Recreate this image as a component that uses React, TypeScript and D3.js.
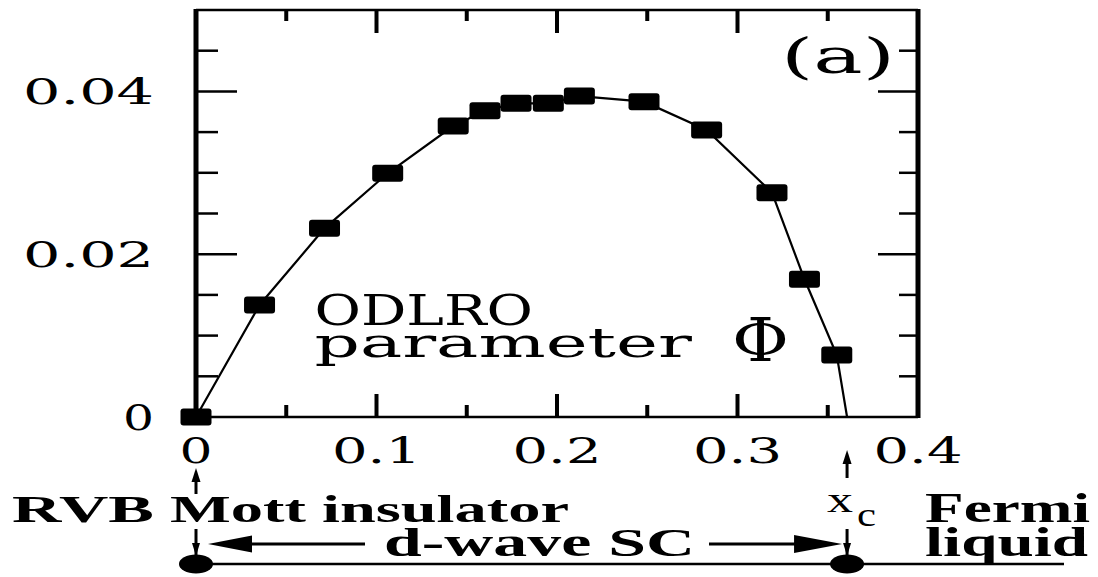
import React from "react";
import * as d3 from "d3";

// ---- data ----
const dopingX = [0, 0.0352, 0.0712, 0.1062, 0.1425, 0.1601, 0.1773, 0.1952, 0.2124, 0.2482, 0.2829, 0.3191, 0.3371, 0.355];
const odlroPhi = [0, 0.01376, 0.02318, 0.02994, 0.03575, 0.03763, 0.03854, 0.03854, 0.03943, 0.03874, 0.03526, 0.02756, 0.01692, 0.00762];
const xc = 0.3607; // where the curve reaches zero

const xTickValues = [0, 0.1, 0.2, 0.3, 0.4];
const xTickLabels = ["0", "0.1", "0.2", "0.3", "0.4"];
const xMajor = [0.1, 0.2, 0.3];
const xMinor = [0.05, 0.15, 0.25, 0.35];
const yTickValues = [0, 0.02, 0.04];
const yTickLabels = ["0", "0.02", "0.04"];
const yMajor = [0.02, 0.04];
const yMinor = [0.005, 0.01, 0.015, 0.025, 0.03, 0.035, 0.045];

const W = 1098;
const H = 577;
const L = 196, R = 918, T = 10, B = 417;
const SERIF = "'Liberation Serif', 'Times New Roman', serif";
const WIDE = "'DejaVu Serif', 'Liberation Serif', serif";

export default function App() {
  const x = d3.scaleLinear().domain([0, 0.4]).range([L, R]);
  const y = d3.scaleLinear().domain([0, 0.05]).range([B, T]);
  const pts: [number, number][] = dopingX.map((v, i) => [v, odlroPhi[i]]);
  const linePts: [number, number][] = [...pts, [xc, 0]];
  const line = d3.line<[number, number]>().x((d) => x(d[0])).y((d) => y(d[1]));

  const x0 = x(0);
  const xC = x(xc);
  const arrowY = 544;
  const baseY = 564;

  const stretchText = (
    str: string, xx: number, yy: number, len: number, size: number,
    weight: string | number = "normal", family: string = SERIF, key?: string
  ) => (
    <text key={key ?? str + xx} x={xx} y={yy} textLength={len} lengthAdjust="spacingAndGlyphs"
      fontFamily={family} fontSize={size} fontWeight={weight} fill="#000">{str}</text>
  );

  return (
    <svg width={W} height={H} viewBox={`0 0 ${W} ${H}`} style={{ position: "absolute", left: 0, top: 0, background: "#fff" }}>
      <rect x={0} y={0} width={W} height={H} fill="#fff" />
      {/* frame */}
      <line x1={L} x2={R} y1={T} y2={T} stroke="#000" strokeWidth={2.5} />
      <line x1={L} x2={R} y1={B} y2={B} stroke="#000" strokeWidth={2.5} />
      <line x1={L} x2={L} y1={T - 1} y2={B + 1} stroke="#000" strokeWidth={5} />
      <line x1={R} x2={R} y1={T - 1} y2={B + 1} stroke="#000" strokeWidth={5} />

      {/* x ticks */}
      {xMajor.map((v) => (
        <g key={"xM" + v}>
          <line x1={x(v)} x2={x(v)} y1={B} y2={B - 23} stroke="#000" strokeWidth={4} />
          <line x1={x(v)} x2={x(v)} y1={T} y2={T + 23} stroke="#000" strokeWidth={4} />
        </g>
      ))}
      {xMinor.map((v) => (
        <g key={"xm" + v}>
          <line x1={x(v)} x2={x(v)} y1={B} y2={B - 12} stroke="#000" strokeWidth={4} />
          <line x1={x(v)} x2={x(v)} y1={T} y2={T + 11} stroke="#000" strokeWidth={4} />
        </g>
      ))}
      {/* y ticks */}
      {yMajor.map((v) => (
        <g key={"yM" + v}>
          <line x1={L} x2={L + 41} y1={y(v)} y2={y(v)} stroke="#000" strokeWidth={2.5} />
          <line x1={R} x2={R - 40} y1={y(v)} y2={y(v)} stroke="#000" strokeWidth={2.5} />
        </g>
      ))}
      {yMinor.map((v) => (
        <g key={"ym" + v}>
          <line x1={L} x2={L + 22} y1={y(v)} y2={y(v)} stroke="#000" strokeWidth={2.5} />
          <line x1={R} x2={R - 19} y1={y(v)} y2={y(v)} stroke="#000" strokeWidth={2.5} />
        </g>
      ))}

      {/* tick labels */}
      {yTickValues.map((v, i) => {
        const lab = yTickLabels[i];
        const w = lab.length === 1 ? 31 : 131;
        return stretchText(lab, 154 - w, y(v) + 13, w, 35, "normal", WIDE, "yl" + i);
      })}
      {xTickValues.map((v, i) => {
        const lab = xTickLabels[i];
        const w = lab.length === 1 ? 33 : 89;
        return stretchText(lab, x(v) - w / 2, 463, w, 35, "normal", WIDE, "xl" + i);
      })}

      {/* data */}
      <path d={line(linePts) ?? ""} fill="none" stroke="#000" strokeWidth={2.2} />
      {pts.map((d, i) => (
        <rect key={"p" + i} x={x(d[0]) - 15.5} y={y(d[1]) - 8.5} width={31} height={17} rx={3} fill="#000" />
      ))}

      {/* in-plot text */}
      {stretchText("(a)", 781, 73, 114, 49, "normal", WIDE)}
      {stretchText("ODLRO", 314.5, 325, 218.5, 42, "normal", WIDE)}
      {stretchText("parameter", 314.5, 357, 377.5, 41, "normal", WIDE)}
      {stretchText("\u03A6", 732, 361, 57, 60, "normal", WIDE)}

      {/* arrows under axis */}
      <line x1={x0} x2={x0} y1={478} y2={494} stroke="#000" strokeWidth={3} />
      <path d={`M${x0},468 L${x0 - 4.5},482 L${x0 + 4.5},482 Z`} fill="#000" />
      <line x1={xC} x2={xC} y1={462} y2={478} stroke="#000" strokeWidth={3} />
      <path d={`M${xC},450 L${xC - 4.5},464 L${xC + 4.5},464 Z`} fill="#000" />

      {/* small down marks above dots */}
      <line x1={x0} x2={x0} y1={529} y2={556} stroke="#000" strokeWidth={3} />
      <path d={`M${x0},556 L${x0 - 4},543 L${x0 + 4},543 Z`} fill="#000" />
      <line x1={xC} x2={xC} y1={529} y2={556} stroke="#000" strokeWidth={3} />
      <path d={`M${xC},556 L${xC - 4},543 L${xC + 4},543 Z`} fill="#000" />

      {/* d-wave SC arrows */}
      <line x1={252} x2={365} y1={arrowY} y2={arrowY} stroke="#000" strokeWidth={3} />
      <path d={`M${x0 + 12},${arrowY} L${x0 + 56},${arrowY - 8.5} L${x0 + 56},${arrowY + 8.5} Z`} fill="#000" />
      <line x1={709} x2={796} y1={arrowY} y2={arrowY} stroke="#000" strokeWidth={3} />
      <path d={`M${xC - 5},${arrowY} L${xC - 53},${arrowY - 9} L${xC - 53},${arrowY + 9} Z`} fill="#000" />

      {/* baseline with dots */}
      <line x1={x0} x2={1064} y1={baseY} y2={baseY} stroke="#000" strokeWidth={2.5} />
      <ellipse cx={x0} cy={baseY} rx={17} ry={9.5} fill="#000" />
      <ellipse cx={xC} cy={baseY} rx={17} ry={9.5} fill="#000" />

      {/* bottom labels */}
      {stretchText("RVB", 12, 522, 142, 37, "bold")}
      {stretchText("Mott insulator", 170, 522, 399, 37, "bold")}
      {stretchText("d-wave SC", 384, 556, 311, 39, "bold")}
      {stretchText("x", 827, 512, 26, 36, "normal")}
      {stretchText("c", 857, 526, 19, 34, "normal")}
      {stretchText("Fermi", 925, 522, 165, 42, "bold")}
      {stretchText("liquid", 925, 556, 163, 42, "bold")}
    </svg>
  );
}
